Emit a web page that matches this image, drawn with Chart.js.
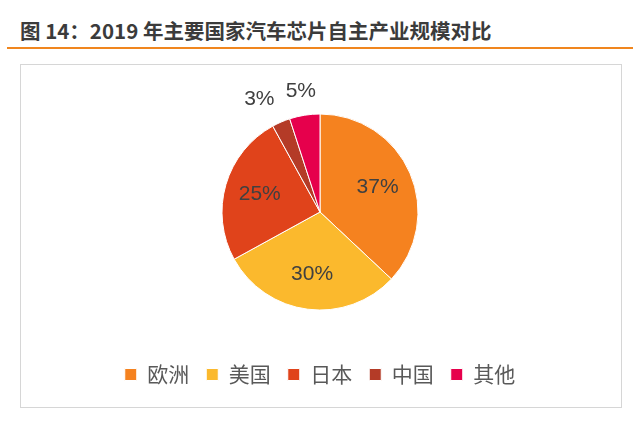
<!DOCTYPE html>
<html>
<head>
<meta charset="utf-8">
<script src="https://cdn.jsdelivr.net/npm/chart.js@4"></script>
<style>
  html, body { margin: 0; padding: 0; background: #fff; }
  body { width: 640px; height: 422px; position: relative; overflow: hidden; }
  .title {
    position: absolute; left: 20px; top: 18px;
    font-family: "Noto Sans CJK SC", sans-serif; font-weight: bold;
    font-size: 20.5px; line-height: 24px; color: #3b3b3b; white-space: nowrap;
  }
  .title-line { position: absolute; left: 7px; top: 47px; width: 626px; height: 2px; background: #f0861e; }
  .frame { position: absolute; left: 20px; top: 64px; width: 600px; height: 342px; border: 1px solid #d6d6d6; }
  #chart { position: absolute; left: 0; top: 0; }
</style>
</head>
<body>
<div class="title">图 14：2019 年主要国家汽车芯片自主产业规模对比</div>
<div class="title-line"></div>
<div class="frame"></div>
<canvas id="chart" width="640" height="422"></canvas>
<script>
// data
const regions = ['欧洲', '美国', '日本', '中国', '其他'];
const shares = [37, 30, 25, 3, 5];
const sliceColors = ['#f5821f', '#fbb92d', '#e0431b', '#b43b27', '#e6004c'];

// percent labels: inside for big slices, outside for small ones
const sliceLabels = {
    id: 'sliceLabels',
    afterDatasetsDraw(chart) {
        const ctx = chart.ctx;
        const meta = chart.getDatasetMeta(0);
        ctx.save();
        ctx.font = '21px "Liberation Sans", Arial, sans-serif';
        ctx.fillStyle = '#404040';
        ctx.textAlign = 'center';
        ctx.textBaseline = 'middle';
        meta.data.forEach(function(arc, i) {
            const mid = (arc.startAngle + arc.endAngle) / 2;
            const small = shares[i] < 10;
            const dist = small ? arc.outerRadius * 1.25 : arc.outerRadius * 0.64;
            let x = arc.x + Math.cos(mid) * dist;
            const y = arc.y + Math.sin(mid) * dist;
            if (small && Math.cos(mid) < -0.3) x -= 12;
            ctx.fillText(shares[i] + '%', x, y);
        });
        ctx.restore();
    }
};

document.addEventListener('DOMContentLoaded', function() {
    const ctx = document.getElementById('chart').getContext('2d');
    new Chart(ctx, {
        type: 'pie',
        data: {
            labels: regions,
            datasets: [{
                data: shares,
                backgroundColor: sliceColors,
                borderColor: '#ffffff',
                borderWidth: 1,
                radius: 98
            }]
        },
        options: {
            responsive: false,
            animation: false,
            layout: { padding: { top: 77, bottom: 27, left: 0, right: 0 } },
            plugins: {
                tooltip: { enabled: false },
                legend: {
                    position: 'bottom',
                    labels: {
                        boxWidth: 12,
                        boxHeight: 12,
                        padding: 17,
                        color: '#595959',
                        font: { family: '"Noto Sans CJK SC", sans-serif', size: 21 }
                    }
                }
            }
        },
        plugins: [sliceLabels]
    });
});
</script>
</body>
</html>
